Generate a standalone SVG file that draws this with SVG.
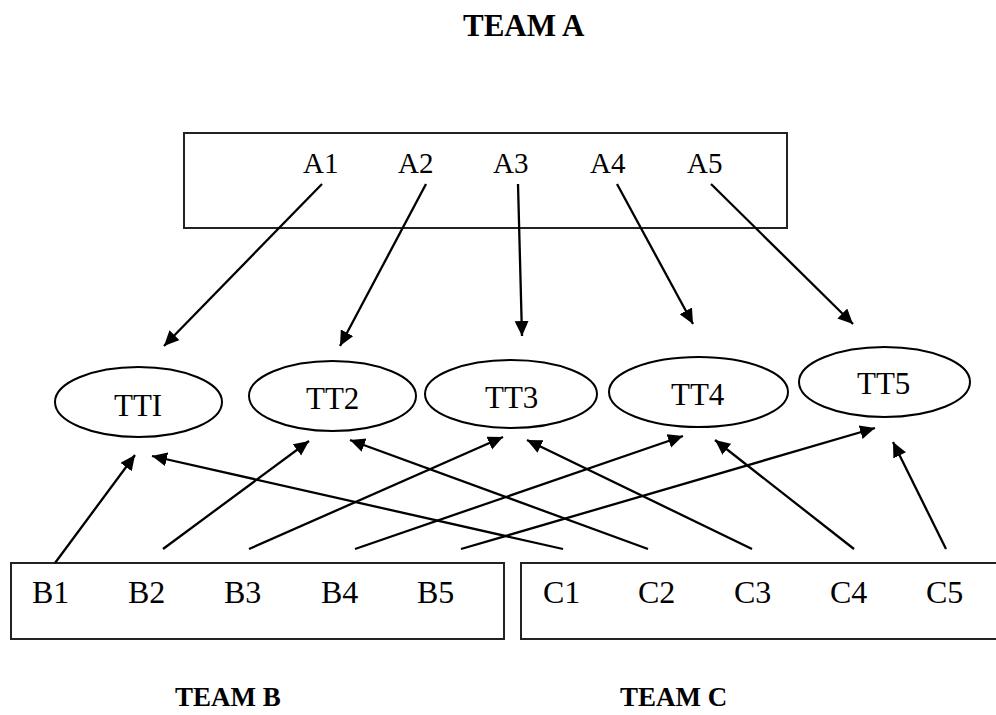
<svg xmlns="http://www.w3.org/2000/svg" width="996" height="715" viewBox="0 0 996 715">
<defs>
<style>
.t{font-family:"Liberation Serif","Times New Roman",serif;fill:#000}
.lbl{font-size:29px}
.tt{font-size:31px}
.bc{font-size:32px}
.team{font-size:31px;font-weight:bold}
.teamsm{font-size:27px;font-weight:bold}
.box{fill:#fff;stroke:#222;stroke-width:2}
.ell{fill:#fff;stroke:#000;stroke-width:2}
.arr{stroke:#000;stroke-width:2.3;fill:none;marker-end:url(#ah)}
</style>
<marker id="ah" markerUnits="userSpaceOnUse" markerWidth="16" markerHeight="16" refX="15" refY="7" orient="auto">
<path d="M0,0 L15,7 L0,14 Z" fill="#000"/>
</marker>
</defs>
<rect width="996" height="715" fill="#fff"/>
<text class="t team" x="463" y="36">TEAM A</text>
<g id="teamA">
<rect class="box" x="184" y="133" width="603" height="95"/>
<text class="t lbl" x="303" y="173">A1</text>
<text class="t lbl" x="398" y="173">A2</text>
<text class="t lbl" x="493" y="173">A3</text>
<text class="t lbl" x="590" y="173">A4</text>
<text class="t lbl" x="687" y="173">A5</text>
</g>
<g id="tt1"><ellipse class="ell" cx="138.5" cy="402" rx="83.5" ry="35"/><text class="t tt" x="114" y="416">TTI</text></g>
<g id="tt2"><ellipse class="ell" cx="332.5" cy="396" rx="83.5" ry="35"/><text class="t tt" x="306" y="409">TT2</text></g>
<g id="tt3"><ellipse class="ell" cx="511" cy="394" rx="86" ry="34"/><text class="t tt" x="485" y="408">TT3</text></g>
<g id="tt4"><ellipse class="ell" cx="698.5" cy="392" rx="89.5" ry="35"/><text class="t tt" x="671" y="405">TT4</text></g>
<g id="tt5"><ellipse class="ell" cx="884.5" cy="382" rx="85.5" ry="35"/><text class="t tt" x="857" y="394">TT5</text></g>
<g id="teamB">
<rect class="box" x="11" y="563" width="493" height="76"/>
<text class="t bc" x="32" y="603">B1</text>
<text class="t bc" x="128" y="603">B2</text>
<text class="t bc" x="224" y="603">B3</text>
<text class="t bc" x="321" y="603">B4</text>
<text class="t bc" x="417" y="603">B5</text>
</g>
<g id="teamC">
<rect class="box" x="521" y="563" width="490" height="76"/>
<text class="t bc" x="543" y="603">C1</text>
<text class="t bc" x="638" y="603">C2</text>
<text class="t bc" x="734" y="603">C3</text>
<text class="t bc" x="830" y="603">C4</text>
<text class="t bc" x="926" y="603">C5</text>
</g>
<text class="t teamsm" x="175" y="706">TEAM B</text>
<text class="t teamsm" x="620" y="706">TEAM C</text>
<g id="connectors">
<line class="arr" x1="322" y1="184" x2="164" y2="346"/>
<line class="arr" x1="426" y1="184" x2="340" y2="346"/>
<line class="arr" x1="518" y1="184" x2="522" y2="336"/>
<line class="arr" x1="617" y1="184" x2="693" y2="324"/>
<line class="arr" x1="711" y1="184" x2="853" y2="324"/>
<line class="arr" x1="55" y1="563" x2="135" y2="455"/>
<line class="arr" x1="563" y1="549" x2="152" y2="456"/>
<line class="arr" x1="163" y1="549" x2="309" y2="441"/>
<line class="arr" x1="648" y1="549" x2="350" y2="440"/>
<line class="arr" x1="249" y1="549" x2="503" y2="437"/>
<line class="arr" x1="752" y1="549" x2="527" y2="440"/>
<line class="arr" x1="355" y1="549" x2="683" y2="436"/>
<line class="arr" x1="854" y1="549" x2="715" y2="440"/>
<line class="arr" x1="461" y1="549" x2="875" y2="428"/>
<line class="arr" x1="946" y1="549" x2="893" y2="442"/>
</g>
</svg>
